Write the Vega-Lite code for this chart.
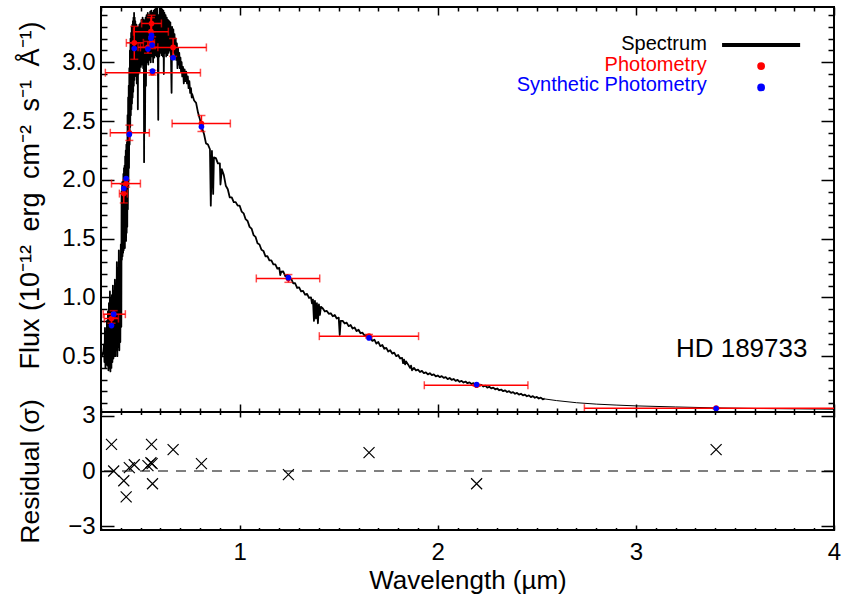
{
"$schema": "https://vega.github.io/schema/vega-lite/v6.json",
"background": "white",
"padding": {"left": 14, "right": 2, "top": 5, "bottom": 4},
"spacing": 0,
"bounds": "flush",
"config": {
  "view": {"stroke": "black", "strokeWidth": 2},
  "font": "Liberation Sans",
  "axis": {"tickColor": "black", "tickWidth": 1.5, "labelColor": "black", "titleColor": "black", "grid": false, "domain": false, "labelFont": "Liberation Sans", "titleFont": "Liberation Sans", "titleFontWeight": "normal", "labelFlush": false, "labelOverlap": false}
},
"datasets": {
  "spectrum": [
{"lam":0.300,"flux":0.49},{"lam":0.306,"flux":0.51},{"lam":0.312,"flux":0.54},
{"lam":0.3150,"flux":0.60},{"lam":0.3175,"flux":0.45},{"lam":0.3200,"flux":0.74},{"lam":0.3225,"flux":0.40},{"lam":0.3250,"flux":0.70},{"lam":0.3275,"flux":0.43},{"lam":0.3300,"flux":0.80},{"lam":0.3325,"flux":0.42},{"lam":0.3350,"flux":0.88},{"lam":0.3375,"flux":0.38},{"lam":0.3400,"flux":0.95},{"lam":0.3425,"flux":0.40},{"lam":0.3450,"flux":1.05},{"lam":0.3475,"flux":0.37},{"lam":0.3500,"flux":0.98},{"lam":0.3525,"flux":0.40},{"lam":0.3550,"flux":1.02},{"lam":0.3575,"flux":0.45},{"lam":0.3600,"flux":1.10},{"lam":0.3625,"flux":0.48},{"lam":0.3650,"flux":1.05},{"lam":0.3675,"flux":0.50},{"lam":0.3700,"flux":1.15},{"lam":0.3725,"flux":0.50},{"lam":0.3750,"flux":1.12},{"lam":0.3775,"flux":0.55},{"lam":0.3800,"flux":1.30},{"lam":0.3825,"flux":0.50},{"lam":0.3850,"flux":1.25},{"lam":0.3875,"flux":0.58},{"lam":0.3900,"flux":1.40},{"lam":0.3925,"flux":0.55},{"lam":0.3950,"flux":1.30},{"lam":0.3975,"flux":0.62},{"lam":0.4000,"flux":1.45},{"lam":0.4025,"flux":0.75},
{"lam":0.4040,"flux":1.90},{"lam":0.4055,"flux":1.32},{"lam":0.4070,"flux":1.98},{"lam":0.4085,"flux":1.35},{"lam":0.4100,"flux":1.70},{"lam":0.4115,"flux":1.38},{"lam":0.4130,"flux":2.05},{"lam":0.4145,"flux":1.40},{"lam":0.4160,"flux":2.10},{"lam":0.4175,"flux":1.45},{"lam":0.4190,"flux":2.12},{"lam":0.4205,"flux":1.42},{"lam":0.4220,"flux":2.20},{"lam":0.4235,"flux":1.50},{"lam":0.4250,"flux":2.25},{"lam":0.4265,"flux":1.48},{"lam":0.4280,"flux":2.30},{"lam":0.4295,"flux":1.55},{"lam":0.4310,"flux":2.32},{"lam":0.4325,"flux":1.60},{"lam":0.4340,"flux":2.55},{"lam":0.4355,"flux":1.75},{"lam":0.4370,"flux":2.70},{"lam":0.4385,"flux":1.95},{"lam":0.4400,"flux":2.80},{"lam":0.4415,"flux":2.10},{"lam":0.4430,"flux":2.95},{"lam":0.4445,"flux":2.30},{"lam":0.4460,"flux":3.10},{"lam":0.4475,"flux":2.45},{"lam":0.4490,"flux":3.20},{"lam":0.4505,"flux":2.55},{"lam":0.4520,"flux":3.25},{"lam":0.4535,"flux":2.60},{"lam":0.4550,"flux":3.30},{"lam":0.4565,"flux":2.65},{"lam":0.4580,"flux":3.32},{"lam":0.4595,"flux":2.70},{"lam":0.4610,"flux":3.35},{"lam":0.4625,"flux":2.75},{"lam":0.4640,"flux":3.38},{"lam":0.4655,"flux":2.80},{"lam":0.4670,"flux":3.42},{"lam":0.4685,"flux":2.85},{"lam":0.4700,"flux":3.38},{"lam":0.4715,"flux":2.90},{"lam":0.4730,"flux":3.35},{"lam":0.4745,"flux":2.92},{"lam":0.4760,"flux":3.30},{"lam":0.4775,"flux":2.88},{"lam":0.4790,"flux":3.32},{"lam":0.4805,"flux":2.82},{"lam":0.4820,"flux":3.30},{"lam":0.4835,"flux":2.85},{"lam":0.4850,"flux":3.28},{"lam":0.4860,"flux":2.60},{"lam":0.4875,"flux":3.25},{"lam":0.4890,"flux":2.90},{"lam":0.4905,"flux":3.30},{"lam":0.4920,"flux":2.95},{"lam":0.4935,"flux":3.32},{"lam":0.4950,"flux":2.92},
{"lam":0.4980,"flux":3.33},{"lam":0.5010,"flux":2.96},{"lam":0.5040,"flux":3.36},{"lam":0.5070,"flux":2.98},{"lam":0.5100,"flux":3.38},{"lam":0.5130,"flux":2.95},{"lam":0.5160,"flux":3.36},{"lam":0.5175,"flux":2.15},{"lam":0.5190,"flux":3.35},{"lam":0.5220,"flux":2.40},{"lam":0.5250,"flux":3.38},{"lam":0.5270,"flux":2.80},{"lam":0.5300,"flux":3.40},{"lam":0.5330,"flux":3.00},{"lam":0.5360,"flux":3.42},{"lam":0.5390,"flux":2.98},{"lam":0.5420,"flux":3.40},{"lam":0.5450,"flux":3.02},{"lam":0.5480,"flux":3.43},{"lam":0.5510,"flux":3.00},{"lam":0.5540,"flux":3.44},{"lam":0.5570,"flux":3.05},{"lam":0.5600,"flux":3.42},{"lam":0.5630,"flux":3.00},{"lam":0.5660,"flux":3.44},{"lam":0.5690,"flux":3.04},{"lam":0.5720,"flux":3.45},{"lam":0.5750,"flux":3.06},{"lam":0.5780,"flux":3.46},{"lam":0.5810,"flux":3.05},{"lam":0.5840,"flux":3.47},{"lam":0.5870,"flux":3.02},{"lam":0.5890,"flux":2.51},{"lam":0.5910,"flux":3.40},{"lam":0.5940,"flux":3.05},{"lam":0.5970,"flux":3.46},{"lam":0.6000,"flux":3.08},{"lam":0.6030,"flux":3.47},{"lam":0.6060,"flux":3.06},{"lam":0.6090,"flux":3.45},{"lam":0.6120,"flux":3.05},{"lam":0.6150,"flux":3.44},{"lam":0.6170,"flux":2.90},{"lam":0.6200,"flux":3.42},{"lam":0.6230,"flux":3.08},{"lam":0.6260,"flux":3.40},{"lam":0.6290,"flux":3.05},{"lam":0.6320,"flux":3.38},{"lam":0.6350,"flux":3.06},{"lam":0.6380,"flux":3.36},{"lam":0.6410,"flux":3.08},{"lam":0.6440,"flux":3.35},{"lam":0.6470,"flux":3.10},{"lam":0.6500,"flux":3.34},{"lam":0.6530,"flux":3.08},{"lam":0.6563,"flux":2.74},{"lam":0.6590,"flux":3.30},{"lam":0.6620,"flux":3.10},{"lam":0.6650,"flux":3.28},{"lam":0.6680,"flux":3.08},{"lam":0.6710,"flux":3.24},{"lam":0.6740,"flux":3.06},{"lam":0.6770,"flux":3.20},{"lam":0.6800,"flux":3.02},{"lam":0.6830,"flux":3.16},{"lam":0.6860,"flux":2.95},{"lam":0.6890,"flux":3.12},{"lam":0.6920,"flux":2.98},{"lam":0.6950,"flux":3.08},{"lam":0.6980,"flux":2.95},{"lam":0.7010,"flux":3.04},{"lam":0.7040,"flux":2.92},{"lam":0.7070,"flux":3.00},{"lam":0.7100,"flux":2.88},{"lam":0.7140,"flux":2.96},{"lam":0.7180,"flux":2.82},{"lam":0.7220,"flux":2.94},{"lam":0.7260,"flux":2.84},{"lam":0.7300,"flux":2.92},{"lam":0.7340,"flux":2.82},{"lam":0.7380,"flux":2.88},{"lam":0.7420,"flux":2.78},{"lam":0.7460,"flux":2.84},{"lam":0.7500,"flux":2.74},{"lam":0.7540,"flux":2.78},{"lam":0.7580,"flux":2.70},
{"lam":0.760,"flux":2.73},{"lam":0.770,"flux":2.675},{"lam":0.780,"flux":2.655},{"lam":0.790,"flux":2.57},{"lam":0.800,"flux":2.51},{"lam":0.810,"flux":2.441},{"lam":0.820,"flux":2.39},{"lam":0.830,"flux":2.31},{"lam":0.840,"flux":2.30},{"lam":0.850,"flux":2.26},{"lam":0.8542,"flux":1.78},{"lam":0.860,"flux":2.245},{"lam":0.8662,"flux":1.88},{"lam":0.870,"flux":2.19},{"lam":0.880,"flux":2.185},{"lam":0.890,"flux":2.14},{"lam":0.900,"flux":2.14},{"lam":0.903,"flux":1.96},{"lam":0.910,"flux":2.09},{"lam":0.920,"flux":2.04},{"lam":0.930,"flux":1.95},{"lam":0.940,"flux":1.92},{"lam":0.950,"flux":1.85},{"lam":0.960,"flux":1.85},{"lam":0.970,"flux":1.81},{"lam":0.980,"flux":1.81},{"lam":0.990,"flux":1.78},{"lam":1.000,"flux":1.78},
{"lam":1.010,"flux":1.73},{"lam":1.020,"flux":1.715},{"lam":1.030,"flux":1.665},{"lam":1.040,"flux":1.65},{"lam":1.050,"flux":1.60},{"lam":1.060,"flux":1.585},{"lam":1.070,"flux":1.53},{"lam":1.080,"flux":1.515},{"lam":1.090,"flux":1.46},{"lam":1.100,"flux":1.45},{"lam":1.110,"flux":1.405},{"lam":1.120,"flux":1.395},{"lam":1.130,"flux":1.35},{"lam":1.140,"flux":1.35},{"lam":1.150,"flux":1.315},{"lam":1.160,"flux":1.315},{"lam":1.170,"flux":1.28},{"lam":1.180,"flux":1.28},{"lam":1.190,"flux":1.245},{"lam":1.200,"flux":1.25},{"lam":1.205,"flux":1.19},{"lam":1.210,"flux":1.218},{"lam":1.220,"flux":1.22},{"lam":1.230,"flux":1.18},{"lam":1.240,"flux":1.19},{"lam":1.250,"flux":1.16},{"lam":1.260,"flux":1.16},{"lam":1.270,"flux":1.12},{"lam":1.280,"flux":1.12},{"lam":1.290,"flux":1.08},{"lam":1.300,"flux":1.085},{"lam":1.310,"flux":1.051},{"lam":1.320,"flux":1.055},{"lam":1.330,"flux":1.023},{"lam":1.340,"flux":1.03},{"lam":1.350,"flux":0.995},{"lam":1.360,"flux":1.00},{"lam":1.365,"flux":0.95},{"lam":1.370,"flux":0.98},{"lam":1.375,"flux":0.80},{"lam":1.380,"flux":0.97},{"lam":1.385,"flux":0.82},{"lam":1.390,"flux":0.95},{"lam":1.395,"flux":0.78},{"lam":1.400,"flux":0.94},{"lam":1.405,"flux":0.85},{"lam":1.410,"flux":0.92},{"lam":1.420,"flux":0.905},{"lam":1.430,"flux":0.88},{"lam":1.440,"flux":0.885},{"lam":1.450,"flux":0.86},{"lam":1.460,"flux":0.865},{"lam":1.470,"flux":0.84},{"lam":1.480,"flux":0.85},{"lam":1.490,"flux":0.82},{"lam":1.500,"flux":0.828},{"lam":1.505,"flux":0.68},{"lam":1.510,"flux":0.80},{"lam":1.520,"flux":0.80},{"lam":1.530,"flux":0.778},{"lam":1.540,"flux":0.785},{"lam":1.550,"flux":0.755},{"lam":1.560,"flux":0.765},{"lam":1.570,"flux":0.735},{"lam":1.580,"flux":0.744},{"lam":1.590,"flux":0.714},{"lam":1.600,"flux":0.725},{"lam":1.610,"flux":0.695},{"lam":1.620,"flux":0.70},{"lam":1.630,"flux":0.675},{"lam":1.640,"flux":0.68},{"lam":1.650,"flux":0.65},{"lam":1.660,"flux":0.655},{"lam":1.670,"flux":0.63},{"lam":1.680,"flux":0.64},{"lam":1.690,"flux":0.607},{"lam":1.700,"flux":0.62},{"lam":1.710,"flux":0.585},{"lam":1.720,"flux":0.595},{"lam":1.730,"flux":0.563},{"lam":1.740,"flux":0.57},{"lam":1.750,"flux":0.54},{"lam":1.760,"flux":0.55},{"lam":1.770,"flux":0.522},{"lam":1.780,"flux":0.53},{"lam":1.790,"flux":0.50},{"lam":1.800,"flux":0.51},{"lam":1.810,"flux":0.48},{"lam":1.820,"flux":0.485},{"lam":1.825,"flux":0.44},{"lam":1.830,"flux":0.47},{"lam":1.835,"flux":0.43},{"lam":1.840,"flux":0.455},{"lam":1.850,"flux":0.43},{"lam":1.860,"flux":0.40},{"lam":1.865,"flux":0.42},{"lam":1.870,"flux":0.38},{"lam":1.880,"flux":0.40},{"lam":1.890,"flux":0.378},{"lam":1.900,"flux":0.385},{"lam":1.910,"flux":0.365},{"lam":1.920,"flux":0.375},{"lam":1.930,"flux":0.355},{"lam":1.940,"flux":0.362},{"lam":1.950,"flux":0.345},{"lam":1.960,"flux":0.355},{"lam":1.970,"flux":0.338},{"lam":1.980,"flux":0.345},{"lam":1.990,"flux":0.328},{"lam":2.000,"flux":0.336},{"lam":2.010,"flux":0.322},{"lam":2.020,"flux":0.33},{"lam":2.030,"flux":0.315},{"lam":2.040,"flux":0.322},{"lam":2.050,"flux":0.305},{"lam":2.060,"flux":0.314},{"lam":2.070,"flux":0.298},{"lam":2.080,"flux":0.306},{"lam":2.090,"flux":0.29},{"lam":2.100,"flux":0.298},{"lam":2.110,"flux":0.282},{"lam":2.120,"flux":0.29},{"lam":2.130,"flux":0.276},{"lam":2.140,"flux":0.284},{"lam":2.150,"flux":0.27},{"lam":2.160,"flux":0.277},{"lam":2.170,"flux":0.263},{"lam":2.180,"flux":0.271},{"lam":2.190,"flux":0.256},{"lam":2.200,"flux":0.264},{"lam":2.210,"flux":0.25},{"lam":2.220,"flux":0.256},{"lam":2.230,"flux":0.242},{"lam":2.240,"flux":0.249},{"lam":2.250,"flux":0.233},{"lam":2.260,"flux":0.24},{"lam":2.270,"flux":0.226},{"lam":2.280,"flux":0.232},{"lam":2.290,"flux":0.218},{"lam":2.300,"flux":0.225},{"lam":2.310,"flux":0.21},{"lam":2.320,"flux":0.216},{"lam":2.330,"flux":0.202},{"lam":2.340,"flux":0.209},{"lam":2.350,"flux":0.195},{"lam":2.360,"flux":0.202},{"lam":2.370,"flux":0.188},{"lam":2.380,"flux":0.194},{"lam":2.390,"flux":0.18},{"lam":2.400,"flux":0.187},{"lam":2.410,"flux":0.173},{"lam":2.420,"flux":0.18},{"lam":2.430,"flux":0.166},{"lam":2.440,"flux":0.172},{"lam":2.450,"flux":0.159},{"lam":2.460,"flux":0.166},{"lam":2.470,"flux":0.152},{"lam":2.480,"flux":0.16},{"lam":2.490,"flux":0.146},{"lam":2.500,"flux":0.153},{"lam":2.510,"flux":0.14},{"lam":2.520,"flux":0.147},{"lam":2.530,"flux":0.133},{"lam":2.540,"flux":0.138}
  ],
  "model": [
{"lam":2.54,"flux":0.136},{"lam":2.60,"flux":0.122},{"lam":2.70,"flux":0.104},{"lam":2.80,"flux":0.092},{"lam":2.90,"flux":0.084},{"lam":3.00,"flux":0.077},{"lam":3.20,"flux":0.068},{"lam":3.40,"flux":0.060},{"lam":3.60,"flux":0.055},{"lam":3.80,"flux":0.052},{"lam":4.00,"flux":0.049}
  ],
  "phot": [
{"band":"u","lam":0.353,"lo":0.317,"hi":0.388,"flux":0.82,"flo":0.78,"fhi":0.86,"syn":0.76,"res":1.44},
{"band":"U","lam":0.364,"lo":0.311,"hi":0.423,"flux":0.857,"flo":0.827,"fhi":0.887,"syn":0.857,"res":0.0},
{"band":"v","lam":0.415,"lo":0.393,"hi":0.433,"flux":1.883,"flo":1.803,"fhi":1.963,"syn":1.926,"res":-0.53},
{"band":"BT","lam":0.427,"lo":0.353,"hi":0.499,"flux":1.968,"flo":1.938,"fhi":1.998,"syn":2.011,"res":-1.40},
{"band":"B","lam":0.443,"lo":0.347,"hi":0.544,"flux":2.40,"flo":2.335,"fhi":2.465,"syn":2.386,"res":0.18},
{"band":"b","lam":0.468,"lo":0.428,"hi":0.514,"flux":3.165,"flo":3.025,"fhi":3.305,"syn":3.117,"res":0.34},
{"band":"VT","lam":0.537,"lo":0.487,"hi":0.587,"flux":3.127,"flo":3.077,"fhi":3.177,"syn":3.112,"res":0.29},
{"band":"V","lam":0.552,"lo":0.464,"hi":0.640,"flux":3.26,"flo":3.14,"fhi":3.38,"syn":3.205,"res":0.45},
{"band":"y","lam":0.558,"lo":0.546,"hi":0.570,"flux":3.166,"flo":3.116,"fhi":3.216,"syn":3.146,"res":0.40},
{"band":"Hp","lam":0.560,"lo":0.322,"hi":0.802,"flux":2.911,"flo":2.891,"fhi":2.931,"syn":2.925,"res":-0.69},
{"band":"G","lam":0.555,"lo":0.505,"hi":0.605,"flux":3.33,"flo":3.26,"fhi":3.40,"syn":3.23,"res":1.44},
{"band":"R","lam":0.664,"lo":0.499,"hi":0.832,"flux":3.126,"flo":3.05,"fhi":3.202,"syn":3.038,"res":1.16},
{"band":"I","lam":0.807,"lo":0.659,"hi":0.953,"flux":2.479,"flo":2.411,"fhi":2.547,"syn":2.451,"res":0.40},
{"band":"J","lam":1.246,"lo":1.084,"hi":1.404,"flux":1.161,"flo":1.128,"fhi":1.194,"syn":1.168,"res":-0.20},
{"band":"H","lam":1.653,"lo":1.402,"hi":1.903,"flux":0.670,"flo":0.655,"fhi":0.685,"syn":0.655,"res":1.0},
{"band":"Ks","lam":2.196,"lo":1.932,"hi":2.455,"flux":0.2525,"flo":0.2445,"fhi":0.2605,"syn":0.258,"res":-0.69},
{"band":"W1","lam":3.405,"lo":2.74,"hi":4.07,"flux":0.0575,"flo":0.0545,"fhi":0.0605,"syn":0.054,"res":1.16}
  ]
},
"vconcat": [
{
  "width": 733, "height": 405,
  "resolve": {"axis": {"x": "independent", "y": "independent"}},
  "layer": [
    {"data": {"name": "spectrum"},
     "mark": {"type": "line", "color": "black", "strokeWidth": 1.8, "strokeJoin": "round", "clip": true},
     "encoding": {
       "x": {"field": "lam", "type": "quantitative", "scale": {"domain": [0.3, 4.0], "nice": false, "zero": false},
             "axis": {"orient": "bottom", "values": [1,2,3,4], "tickSize": -8, "labels": false, "title": null}},
       "y": {"field": "flux", "type": "quantitative", "scale": {"domain": [0.025, 3.47], "nice": false, "zero": false},
             "axis": {"orient": "left", "values": [0.5,1,1.5,2,2.5,3], "ticks": false, "labelPadding": 6, "labelFontSize": 24, "format": ".1f",
                      "title": "Flux (10⁻¹²\u2002erg\u2002cm⁻²\u2002s⁻¹\u2002Å⁻¹)", "titleFontSize": 27, "titleX": -71, "titleY": 188, "titleBaseline": "middle"}}
     }},
    {"data": {"name": "model"},
     "mark": {"type": "line", "color": "black", "strokeWidth": 1, "clip": true},
     "encoding": {
       "x": {"field": "lam", "type": "quantitative", "axis": null},
       "y": {"field": "flux", "type": "quantitative", "axis": null}
     }},
    {"data": {"name": "phot"},
     "mark": {"type": "rule", "color": "#ff0000", "strokeWidth": 1.5, "clip": true},
     "encoding": {
       "x": {"field": "lo", "type": "quantitative",
             "axis": {"orient": "bottom", "values": [0.3,0.4,0.5,0.6,0.7,0.8,0.9,1.1,1.2,1.3,1.4,1.5,1.6,1.7,1.8,1.9,2.1,2.2,2.3,2.4,2.5,2.6,2.7,2.8,2.9,3.1,3.2,3.3,3.4,3.5,3.6,3.7,3.8,3.9], "tickSize": -4, "labels": false, "title": null}},
       "x2": {"field": "hi"},
       "y": {"field": "flux", "type": "quantitative",
             "axis": {"orient": "left", "values": [0.5,1,1.5,2,2.5,3], "tickSize": -13, "labels": false, "title": null}}
     }},
    {"data": {"name": "phot"},
     "mark": {"type": "rule", "color": "#ff0000", "strokeWidth": 1.5, "clip": true},
     "encoding": {
       "x": {"field": "lam", "type": "quantitative",
             "axis": {"orient": "top", "values": [1,2,3,4], "tickSize": -8, "labels": false, "title": null}},
       "y": {"field": "flo", "type": "quantitative",
             "axis": {"orient": "left", "values": [0.1,0.2,0.3,0.4,0.6,0.7,0.8,0.9,1.1,1.2,1.3,1.4,1.6,1.7,1.8,1.9,2.1,2.2,2.3,2.4,2.6,2.7,2.8,2.9,3.1,3.2,3.3,3.4], "tickSize": -6, "labels": false, "title": null}},
       "y2": {"field": "fhi"}
     }},
    {"data": {"name": "phot"},
     "mark": {"type": "tick", "orient": "vertical", "color": "#ff0000", "size": 8, "thickness": 1.5, "clip": true},
     "encoding": {
       "x": {"field": "lo", "type": "quantitative",
             "axis": {"orient": "top", "values": [0.3,0.4,0.5,0.6,0.7,0.8,0.9,1.1,1.2,1.3,1.4,1.5,1.6,1.7,1.8,1.9,2.1,2.2,2.3,2.4,2.5,2.6,2.7,2.8,2.9,3.1,3.2,3.3,3.4,3.5,3.6,3.7,3.8,3.9], "tickSize": -4, "labels": false, "title": null}},
       "y": {"field": "flux", "type": "quantitative",
             "axis": {"orient": "right", "values": [0.5,1,1.5,2,2.5,3], "tickSize": -13, "labels": false, "title": null}}
     }},
    {"data": {"name": "phot"},
     "mark": {"type": "tick", "orient": "vertical", "color": "#ff0000", "size": 8, "thickness": 1.5, "clip": true},
     "encoding": {
       "x": {"field": "hi", "type": "quantitative", "axis": null},
       "y": {"field": "flux", "type": "quantitative",
             "axis": {"orient": "right", "values": [0.1,0.2,0.3,0.4,0.6,0.7,0.8,0.9,1.1,1.2,1.3,1.4,1.6,1.7,1.8,1.9,2.1,2.2,2.3,2.4,2.6,2.7,2.8,2.9,3.1,3.2,3.3,3.4], "tickSize": -6, "labels": false, "title": null}}
     }},
    {"data": {"name": "phot"},
     "mark": {"type": "tick", "orient": "horizontal", "color": "#ff0000", "size": 8, "thickness": 1.5, "clip": true},
     "encoding": {
       "x": {"field": "lam", "type": "quantitative", "axis": null},
       "y": {"field": "flo", "type": "quantitative", "axis": null}
     }},
    {"data": {"name": "phot"},
     "mark": {"type": "tick", "orient": "horizontal", "color": "#ff0000", "size": 8, "thickness": 1.5, "clip": true},
     "encoding": {
       "x": {"field": "lam", "type": "quantitative", "axis": null},
       "y": {"field": "fhi", "type": "quantitative", "axis": null}
     }},
    {"data": {"name": "phot"},
     "mark": {"type": "point", "filled": true, "color": "#ff0000", "opacity": 1, "size": 32, "clip": true},
     "encoding": {
       "x": {"field": "lam", "type": "quantitative", "axis": null},
       "y": {"field": "flux", "type": "quantitative", "axis": null}
     }},
    {"data": {"name": "phot"},
     "mark": {"type": "point", "filled": true, "color": "#0000ff", "opacity": 1, "size": 32, "clip": true},
     "encoding": {
       "x": {"field": "lam", "type": "quantitative", "axis": null},
       "y": {"field": "syn", "type": "quantitative", "axis": null}
     }},
    {"data": {"values": [{}]},
     "mark": {"type": "text", "align": "right", "baseline": "alphabetic", "fontSize": 20, "color": "black"},
     "encoding": {"x": {"datum": 3.358, "type": "quantitative", "axis": null}, "y": {"datum": 3.104, "type": "quantitative", "axis": null}, "text": {"value": "Spectrum"}}},
    {"data": {"values": [{}]},
     "mark": {"type": "text", "align": "right", "baseline": "alphabetic", "fontSize": 20, "color": "#ff0000"},
     "encoding": {"x": {"datum": 3.358, "type": "quantitative", "axis": null}, "y": {"datum": 2.928, "type": "quantitative", "axis": null}, "text": {"value": "Photometry"}}},
    {"data": {"values": [{}]},
     "mark": {"type": "text", "align": "right", "baseline": "alphabetic", "fontSize": 20, "color": "#0000ff"},
     "encoding": {"x": {"datum": 3.358, "type": "quantitative", "axis": null}, "y": {"datum": 2.752, "type": "quantitative", "axis": null}, "text": {"value": "Synthetic Photometry"}}},
    {"data": {"values": [{}]},
     "mark": {"type": "rule", "color": "black", "strokeWidth": 4},
     "encoding": {"x": {"datum": 3.435, "type": "quantitative", "axis": null}, "x2": {"datum": 3.829}, "y": {"datum": 3.146, "type": "quantitative", "axis": null}}},
    {"data": {"values": [{}]},
     "mark": {"type": "point", "filled": true, "color": "#ff0000", "opacity": 1, "size": 60},
     "encoding": {"x": {"datum": 3.632, "type": "quantitative", "axis": null}, "y": {"datum": 2.968, "type": "quantitative", "axis": null}}},
    {"data": {"values": [{}]},
     "mark": {"type": "point", "filled": true, "color": "#0000ff", "opacity": 1, "size": 60},
     "encoding": {"x": {"datum": 3.632, "type": "quantitative", "axis": null}, "y": {"datum": 2.786, "type": "quantitative", "axis": null}}},
    {"data": {"values": [{}]},
     "mark": {"type": "text", "align": "right", "baseline": "alphabetic", "fontSize": 26, "color": "black"},
     "encoding": {"x": {"datum": 3.866, "type": "quantitative", "axis": null}, "y": {"datum": 0.494, "type": "quantitative", "axis": null}, "text": {"value": "HD 189733"}}}
  ]
},
{
  "width": 733, "height": 118,
  "resolve": {"axis": {"x": "independent", "y": "independent"}},
  "layer": [
    {"data": {"name": "phot"},
     "mark": {"type": "point", "shape": "M-1,-1L1,1M-1,1L1,-1", "size": 121, "filled": false, "stroke": "black", "strokeWidth": 1.2, "opacity": 1, "clip": true},
     "encoding": {
       "x": {"field": "lam", "type": "quantitative", "scale": {"domain": [0.3, 4.0], "nice": false, "zero": false},
             "axis": {"orient": "bottom", "values": [1,2,3,4], "ticks": false, "labelPadding": 10, "labelFontSize": 24, "format": "d",
                      "title": "Wavelength (µm)", "titleFontSize": 26, "titlePadding": 3}},
       "y": {"field": "res", "type": "quantitative", "scale": {"domain": [-3.2, 3.2], "nice": false, "zero": false},
             "axis": {"orient": "left", "values": [-3,0,3], "ticks": false, "labelPadding": 6, "labelFontSize": 24,
                      "title": "Residual (σ)", "titleFontSize": 26.5, "titleX": -71, "titleY": 59, "titleBaseline": "middle"}}
     }},
    {"data": {"name": "phot"},
     "mark": {"type": "point", "opacity": 0},
     "encoding": {
       "x": {"field": "lam", "type": "quantitative", "axis": {"orient": "bottom", "values": [1,2,3,4], "tickSize": -5, "labels": false, "title": null}},
       "y": {"field": "res", "type": "quantitative", "axis": {"orient": "left", "values": [-3,0,3], "tickSize": -13, "labels": false, "title": null}}
     }},
    {"data": {"name": "phot"},
     "mark": {"type": "point", "opacity": 0},
     "encoding": {
       "x": {"field": "lam", "type": "quantitative", "axis": {"orient": "bottom", "values": [0.3,0.4,0.5,0.6,0.7,0.8,0.9,1.1,1.2,1.3,1.4,1.5,1.6,1.7,1.8,1.9,2.1,2.2,2.3,2.4,2.5,2.6,2.7,2.8,2.9,3.1,3.2,3.3,3.4,3.5,3.6,3.7,3.8,3.9], "tickSize": -2.5, "labels": false, "title": null}},
       "y": {"field": "res", "type": "quantitative", "axis": {"orient": "right", "values": [-3,0,3], "tickSize": -13, "labels": false, "title": null}}
     }},
    {"data": {"name": "phot"},
     "mark": {"type": "point", "opacity": 0},
     "encoding": {
       "x": {"field": "lam", "type": "quantitative", "axis": {"orient": "top", "values": [1,2,3,4], "tickSize": -5, "labels": false, "title": null}},
       "y": {"field": "res", "type": "quantitative", "axis": null}
     }},
    {"data": {"name": "phot"},
     "mark": {"type": "point", "opacity": 0},
     "encoding": {
       "x": {"field": "lam", "type": "quantitative", "axis": {"orient": "top", "values": [0.3,0.4,0.5,0.6,0.7,0.8,0.9,1.1,1.2,1.3,1.4,1.5,1.6,1.7,1.8,1.9,2.1,2.2,2.3,2.4,2.5,2.6,2.7,2.8,2.9,3.1,3.2,3.3,3.4,3.5,3.6,3.7,3.8,3.9], "tickSize": -2.5, "labels": false, "title": null}},
       "y": {"field": "res", "type": "quantitative", "axis": null}
     }},
    {"data": {"values": [{}]},
     "mark": {"type": "rule", "color": "black", "strokeWidth": 1, "strokeDash": [10, 8]},
     "encoding": {"y": {"datum": 0, "type": "quantitative", "axis": null}}}
  ]
}
]
}
